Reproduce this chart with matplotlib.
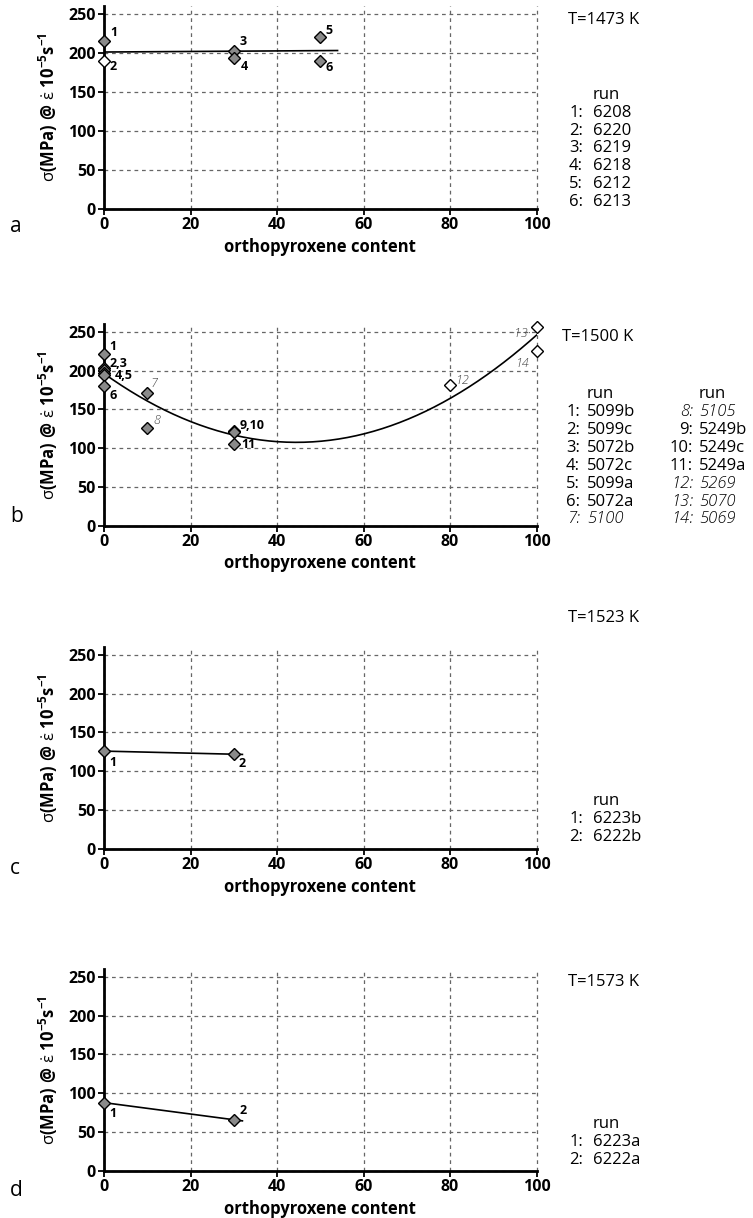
import numpy as np
import matplotlib
matplotlib.use("Agg")
import matplotlib.pyplot as plt

plt.rcParams['font.family'] = ['Open Sans', 'DejaVu Sans']
plt.rcParams['mathtext.fontset'] = 'custom'
plt.rcParams['mathtext.rm'] = 'Open Sans'
plt.rcParams['mathtext.bf'] = 'Open Sans:bold'
plt.rcParams['mathtext.it'] = 'Open Sans:italic'

W, H = 753, 1218

# ---- data ----
# a) T = 1473 K
a_x = [0, 0, 30, 30, 50, 50]
a_y = [215, 190, 203, 194, 220, 190]
a_open = [False, True, False, False, False, False]
a_runs = ['6208', '6220', '6219', '6218', '6212', '6213']

# b) T = 1500 K
b_x = [0, 0, 0, 0, 0, 0, 10, 10, 30, 30, 30, 80, 100, 100]
b_y = [222, 203, 201, 197, 195, 180, 171, 126, 122, 121, 106, 181, 256, 225]
b_open = [False] * 11 + [True, True, True]
b_runs = ['5099b', '5099c', '5072b', '5072c', '5099a', '5072a', '5100',
          '5105', '5249b', '5249c', '5249a', '5269', '5070', '5069']
b_italic = [7, 8, 12, 13, 14]

# c) T = 1523 K
c_x = [0, 30]
c_y = [126, 122]
c_runs = ['6223b', '6222b']

# d) T = 1573 K
d_x = [0, 30]
d_y = [88, 66]
d_runs = ['6223a', '6222a']

GRAY = '#8a8a8a'
YLABEL = r'$\mathrm{σ}\mathbf{(MPa)\ @}\ \mathrm{\dot{ε}}\ \mathbf{10^{-5}s^{-1}}$'


def px(x, y):
    return x / W, 1 - y / H


def make_axes(top, bottom):
    left, right = 104, 536.5
    ax = fig.add_axes([left / W, 1 - bottom / H, (right - left) / W, (bottom - top) / H])
    ax.set_xlim(0, 100)
    ax.set_ylim(0, 260)
    ax.set_xticks(range(0, 101, 20))
    ax.set_yticks(range(0, 251, 50))
    for s in ['top', 'right']:
        ax.spines[s].set_visible(False)
    for s in ['left', 'bottom']:
        ax.spines[s].set_linewidth(2)
    ax.tick_params(direction='out', length=4, width=1.3, labelsize=11.5, pad=2)
    for lab in ax.get_xticklabels() + ax.get_yticklabels():
        lab.set_fontweight('bold')
    ax.grid(True, color='#666666', linestyle=(0, (3, 3)), linewidth=0.9)
    for gl in ax.get_xgridlines() + ax.get_ygridlines():
        gl.set_clip_on(False)
    ax.set_axisbelow(True)
    ax.set_xlabel('orthopyroxene content', fontsize=12, fontweight='bold', labelpad=3)
    ax.set_ylabel(YLABEL, fontsize=12, labelpad=6)
    return ax


def diamonds(ax, xs, ys, opens):
    for x, y, o in zip(xs, ys, opens):
        ax.plot(x, y, marker='D', ms=6.5, mfc='white' if o else GRAY, mec='black',
                mew=1.0, ls='none', zorder=5, clip_on=False)


def tag(ax, text, x, y, dx, dy, italic=False, ha='left'):
    ax.annotate(text, (x, y), xytext=(dx * 0.72, dy * 0.72), textcoords='offset points',
                ha=ha, va='center', fontsize=9,
                fontweight='light' if italic else 'bold',
                fontstyle='italic' if italic else 'normal',
                color='#444444' if italic else 'black', zorder=6)


def legend(temp, ty, rows, ry, num_x=583, run_x=593, step=17.8, italic=()):
    fig.text(*px(568, ty), temp, fontsize=12, va='center', ha='left')
    fig.text(*px(run_x, ry), 'run', fontsize=12, va='center', ha='left')
    for i, r in enumerate(rows):
        n = i + 1
        st = 'italic' if n in italic else 'normal'
        wt = 'light' if n in italic else 'normal'
        y = ry + step * (i + 1)
        fig.text(*px(num_x, y), f'{n}:', fontsize=12, va='center', ha='right', style=st, weight=wt)
        fig.text(*px(run_x, y), r, fontsize=12, va='center', ha='left', style=st, weight=wt)


fig = plt.figure(figsize=(W / 100, H / 100), dpi=100)

# ---- panel a ----
ax = make_axes(6, 209)
ca = np.polyfit(a_x, a_y, 1)
xa = np.linspace(0, 54, 50)
ax.plot(xa, np.polyval(ca, xa), color='black', lw=1.2, zorder=4)
diamonds(ax, a_x, a_y, a_open)
for i, (dx, dy) in enumerate([(6, 9), (6, -6), (6, 9), (7, -9), (5, 7), (5, -7)]):
    tag(ax, str(i + 1), a_x[i], a_y[i], dx, dy)
legend('T=1473 K', 20, a_runs, 95)
fig.text(*px(10, 226), 'a', fontsize=15, va='center')

# ---- panel b ----
ax = make_axes(324, 526)
cb = np.polyfit(b_x, b_y, 2)
xb = np.linspace(0, 100, 200)
ax.plot(xb, np.polyval(cb, xb), color='black', lw=1.2, zorder=4)
diamonds(ax, b_x, b_y, b_open)
b_tags = [('1', 0, 5, 7), ('2,3', 1, 6, 5), ('4,5', 3, 11, -3), ('6', 5, 6, -9),
          ('7', 6, 3, 10), ('8', 7, 6, 8), ('9,10', 8, 6, 6), ('11', 10, 8, -1),
          ('12', 11, 6, 5)]
for t, i, dx, dy in b_tags:
    tag(ax, t, b_x[i], b_y[i], dx, dy, italic=int(t.split(',')[0]) in b_italic)
tag(ax, '·13·', b_x[12], b_y[12], -5, -6, italic=True, ha='right')
tag(ax, '14', b_x[13], b_y[13], -7, -12, italic=True, ha='right')
fig.text(*px(562, 337), 'T=1500 K', fontsize=12, va='center', ha='left')
fig.text(*px(587, 394), 'run', fontsize=12, va='center', ha='left')
fig.text(*px(699, 394), 'run', fontsize=12, va='center', ha='left')
for i, r in enumerate(b_runs):
    n = i + 1
    st = 'italic' if n in b_italic else 'normal'
    wt = 'light' if n in b_italic else 'normal'
    col = i // 7
    y = 412 + 17.9 * (i % 7)
    nx, rx = (580, 587) if col == 0 else (693, 699)
    fig.text(*px(nx, y), f'{n}:', fontsize=12, va='center', ha='right', style=st, weight=wt)
    fig.text(*px(rx, y), r, fontsize=12, va='center', ha='left', style=st, weight=wt)
fig.text(*px(10, 517), 'b', fontsize=15, va='center')

# ---- panel c ----
ax = make_axes(647, 849)
cc = np.polyfit(c_x, c_y, 1)
xc = np.linspace(0, 32, 20)
ax.plot(xc, np.polyval(cc, xc), color='black', lw=1.2, zorder=4)
diamonds(ax, c_x, c_y, [False, False])
tag(ax, '1', c_x[0], c_y[0], 5, -11)
tag(ax, '2', c_x[1], c_y[1], 5, -9)
legend('T=1523 K', 618, c_runs, 801)
fig.text(*px(10, 869), 'c', fontsize=15, va='center')

# ---- panel d ----
ax = make_axes(969, 1171)
cd = np.polyfit(d_x, d_y, 1)
xd = np.linspace(0, 32, 20)
ax.plot(xd, np.polyval(cd, xd), color='black', lw=1.2, zorder=4)
diamonds(ax, d_x, d_y, [False, False])
tag(ax, '1', d_x[0], d_y[0], 5, -11)
tag(ax, '2', d_x[1], d_y[1], 6, 9)
legend('T=1573 K', 982, d_runs, 1124)
fig.text(*px(10, 1190), 'd', fontsize=15, va='center')

fig.savefig('out.png', dpi=100)
